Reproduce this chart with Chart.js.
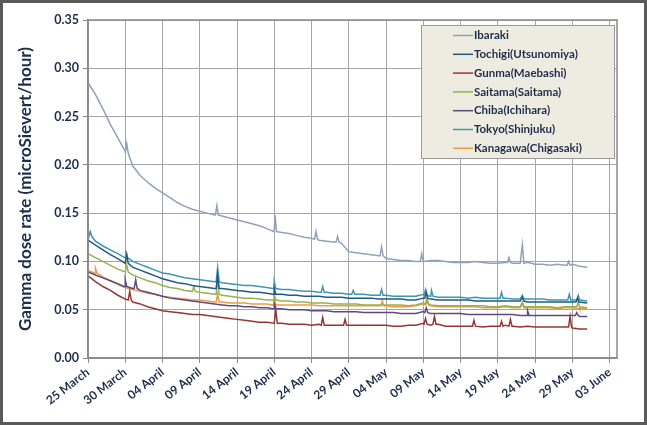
<!DOCTYPE html>
<html>
<head>
<meta charset="utf-8">
<script src="https://cdn.jsdelivr.net/npm/chart.js@4.4.0/dist/chart.umd.min.js"></script>
<style>
  html, body { margin: 0; padding: 0; background: #fff; }
  #wrap { position: relative; width: 647px; height: 425px; }
</style>
</head>
<body>
<div id="wrap"><canvas id="chart" width="647" height="425"></canvas></div>
<script>
// Tick labels, one every 5 days starting 25 March (day 0)
const dateLabels = ['25 March','30 March','04 April','09 April','14 April','19 April','24 April',
  '29 April','04 May','09 May','14 May','19 May','24 May','29 May','03 June'];
const yTicks = [0, 0.05, 0.10, 0.15, 0.20, 0.25, 0.30, 0.35];

const seriesNames = ['Ibaraki','Tochigi(Utsunomiya)','Gunma(Maebashi)','Saitama(Saitama)',
  'Chiba(Ichihara)','Tokyo(Shinjuku)','Kanagawa(Chigasaki)'];
const seriesColors = ['#90a2ba','#235a80','#963634','#98b04e','#5e4a80','#3d97b4','#f0994a'];

// daily readings, day 0 = 25 March
const ibaraki = [0.285,0.273,0.258,0.242,0.228,0.214,0.199,0.189,0.182,0.176,0.171,0.166,0.161,0.157,0.154,0.152,0.150,0.148,0.147,0.145,
  0.143,0.141,0.139,0.137,0.134,0.131,0.130,0.129,0.127,0.125,0.124,0.122,0.121,0.120,0.119,0.110,0.109,0.108,0.107,0.106,
  0.103,0.102,0.101,0.101,0.100,0.100,0.101,0.101,0.100,0.099,0.099,0.099,0.100,0.099,0.098,0.098,0.099,0.098,0.098,0.099,
  0.097,0.097,0.096,0.097,0.096,0.097,0.095,0.094];
const tochigi = [0.122,0.117,0.112,0.107,0.103,0.098,0.094,0.091,0.088,0.085,0.082,0.080,0.078,0.077,0.075,0.074,0.073,0.072,0.072,0.071,
  0.070,0.069,0.068,0.068,0.067,0.066,0.066,0.065,0.065,0.064,0.064,0.064,0.063,0.063,0.063,0.062,0.062,0.062,0.062,0.061,
  0.061,0.061,0.061,0.060,0.060,0.062,0.061,0.060,0.060,0.060,0.060,0.060,0.059,0.059,0.059,0.059,0.059,0.059,0.059,0.058,
  0.058,0.058,0.058,0.058,0.058,0.058,0.058,0.057];
const gunma = [0.085,0.079,0.074,0.070,0.065,0.061,0.058,0.056,0.053,0.051,0.049,0.048,0.047,0.046,0.045,0.045,0.044,0.043,0.042,0.041,
  0.040,0.039,0.038,0.037,0.037,0.036,0.036,0.035,0.035,0.035,0.034,0.035,0.034,0.034,0.034,0.034,0.034,0.034,0.034,0.034,
  0.034,0.033,0.033,0.034,0.034,0.036,0.034,0.035,0.033,0.033,0.033,0.033,0.033,0.032,0.033,0.033,0.034,0.033,0.032,0.033,
  0.032,0.032,0.032,0.032,0.032,0.031,0.030,0.030];
const saitama = [0.108,0.104,0.100,0.096,0.092,0.089,0.086,0.083,0.080,0.078,0.075,0.073,0.072,0.070,0.069,0.068,0.067,0.066,0.065,0.064,
  0.063,0.062,0.062,0.061,0.060,0.060,0.059,0.059,0.058,0.058,0.057,0.057,0.057,0.056,0.056,0.056,0.056,0.055,0.055,0.055,
  0.055,0.055,0.055,0.054,0.055,0.057,0.055,0.054,0.054,0.054,0.054,0.054,0.054,0.054,0.053,0.053,0.054,0.053,0.053,0.053,
  0.053,0.053,0.053,0.052,0.053,0.053,0.052,0.052];
const chiba = [0.089,0.086,0.083,0.080,0.077,0.074,0.072,0.070,0.068,0.066,0.064,0.062,0.061,0.060,0.059,0.058,0.057,0.056,0.055,0.054,
  0.054,0.053,0.053,0.052,0.052,0.051,0.051,0.050,0.050,0.050,0.049,0.049,0.049,0.048,0.048,0.048,0.048,0.047,0.047,0.047,
  0.047,0.047,0.046,0.046,0.046,0.048,0.046,0.046,0.046,0.046,0.046,0.045,0.045,0.045,0.045,0.045,0.045,0.045,0.044,0.044,
  0.044,0.044,0.044,0.044,0.044,0.044,0.043,0.043];
const tokyo = [0.127,0.121,0.116,0.112,0.108,0.104,0.100,0.097,0.094,0.091,0.088,0.087,0.085,0.083,0.082,0.081,0.080,0.079,0.078,0.077,
  0.076,0.075,0.075,0.074,0.073,0.072,0.071,0.071,0.070,0.069,0.069,0.068,0.068,0.067,0.067,0.066,0.066,0.066,0.065,0.065,
  0.065,0.064,0.064,0.064,0.064,0.066,0.064,0.063,0.063,0.063,0.063,0.062,0.063,0.062,0.062,0.062,0.062,0.061,0.061,0.061,
  0.061,0.061,0.060,0.060,0.060,0.060,0.060,0.059];
const kanagawa = [0.091,0.088,0.084,0.080,0.076,0.073,0.071,0.069,0.067,0.066,0.064,0.063,0.062,0.061,0.060,0.060,0.059,0.058,0.058,0.057,
  0.057,0.057,0.056,0.056,0.056,0.055,0.055,0.055,0.055,0.055,0.055,0.054,0.054,0.054,0.054,0.054,0.054,0.054,0.054,0.054,
  0.054,0.053,0.053,0.053,0.054,0.056,0.054,0.053,0.053,0.053,0.053,0.053,0.053,0.052,0.052,0.052,0.053,0.052,0.052,0.052,
  0.052,0.052,0.052,0.051,0.052,0.052,0.051,0.051];

// short spikes: [day, base, peak]
const ibarakiSpikes = [[5.2,0.212,0.222],[17.3,0.148,0.158],[25.1,0.131,0.148],[30.6,0.123,0.131],[33.5,0.120,0.126],
  [39.4,0.106,0.115],[44.8,0.100,0.108],[56.5,0.099,0.104],[58.3,0.098,0.117],[64.5,0.096,0.100]];
const tochigiSpikes = [[5.2,0.098,0.107],[17.4,0.072,0.086],[25.0,0.066,0.072],[45.4,0.062,0.068],[58.3,0.059,0.063],[65.7,0.058,0.062]];
const gunmaSpikes = [[5.6,0.060,0.069],[25.2,0.036,0.050],[31.5,0.034,0.042],[34.5,0.034,0.040],[45.3,0.035,0.041],
  [46.5,0.035,0.043],[51.8,0.033,0.039],[55.5,0.033,0.038],[56.7,0.033,0.040],[64.7,0.032,0.043]];
const saitamaSpikes = [[5.2,0.089,0.096],[14.2,0.069,0.074],[17.4,0.066,0.083],[25.0,0.060,0.066],[45.5,0.056,0.063],
  [58.3,0.053,0.058],[65.8,0.053,0.058]];
const chibaSpikes = [[5.0,0.074,0.081],[6.4,0.072,0.081],[25.0,0.051,0.056],[45.4,0.047,0.052],[59.0,0.044,0.049],[65.6,0.044,0.047]];
const tokyoSpikes = [[0.3,0.126,0.131],[5.1,0.104,0.109],[17.4,0.079,0.094],[25.0,0.072,0.079],[31.5,0.068,0.074],
  [35.6,0.066,0.070],[39.4,0.065,0.071],[45.3,0.065,0.071],[46.1,0.064,0.070],[55.5,0.062,0.068],[58.3,0.061,0.065],
  [64.6,0.060,0.066],[65.8,0.060,0.065]];
const kanagawaSpikes = [[1.0,0.088,0.093],[17.4,0.058,0.066],[25.0,0.055,0.062],[39.5,0.054,0.059],[45.5,0.055,0.060],[58.3,0.052,0.056]];

const allValues = [ibaraki, tochigi, gunma, saitama, chiba, tokyo, kanagawa];
const allSpikes = [ibarakiSpikes, tochigiSpikes, gunmaSpikes, saitamaSpikes, chibaSpikes, tokyoSpikes, kanagawaSpikes];

function buildPoints(vals, spikes) {
  const pts = vals.map((v, i) => ({x: i, y: v}));
  spikes.forEach(([d, base, peak]) => {
    pts.push({x: d - 0.2, y: base}, {x: d, y: peak}, {x: d + 0.2, y: base});
  });
  return pts.sort((a, b) => a.x - b.x);
}

const textColor = '#1f2d4d';
const fontFam = "Lato, 'Open Sans', sans-serif";

// plot frame + page frame
const framePlugin = {
  id: 'frame',
  beforeDraw(chart) {
    const ctx = chart.ctx;
    ctx.save();
    ctx.fillStyle = '#fff';
    ctx.fillRect(0, 0, chart.width, chart.height);
    ctx.restore();
  },
  afterDatasetsDraw(chart) {
    const {ctx, chartArea: a} = chart;
    ctx.save();
    ctx.strokeStyle = '#8a8a8a';
    ctx.lineWidth = 1.5;
    ctx.strokeRect(a.left, a.top, a.right - a.left, a.bottom - a.top);
    ctx.restore();
  },
  afterDraw(chart) {
    const ctx = chart.ctx;
    ctx.save();
    ctx.strokeStyle = '#5a5a5a';
    ctx.lineWidth = 3;
    ctx.strokeRect(1.5, 1.5, chart.width - 3, chart.height - 3);
    ctx.restore();
  }
};

// legend box inside the plot, top right
const boxLegend = {
  id: 'boxLegend',
  afterDraw(chart) {
    const ctx = chart.ctx;
    const bx = 421, by = 25, bw = 193, bh = 133;
    ctx.save();
    ctx.fillStyle = '#eeece1';
    ctx.fillRect(bx, by, bw, bh);
    ctx.strokeStyle = '#9a9a9a';
    ctx.lineWidth = 1;
    ctx.strokeRect(bx + 0.5, by + 0.5, bw, bh);
    ctx.font = "bold 11.5px " + fontFam;
    ctx.textBaseline = 'middle';
    chart.data.datasets.forEach((ds, i) => {
      const y = by + 10.5 + i * 18.8;
      ctx.strokeStyle = ds.borderColor;
      ctx.lineWidth = 1.5;
      ctx.beginPath();
      ctx.moveTo(453, y);
      ctx.lineTo(473, y);
      ctx.stroke();
      ctx.fillStyle = textColor;
      ctx.fillText(ds.label, 474, y);
    });
    ctx.restore();
  }
};

new Chart(document.getElementById('chart'), {
  type: 'line',
  data: {
    datasets: seriesNames.map((name, i) => ({
      label: name,
      data: buildPoints(allValues[i], allSpikes[i]),
      borderColor: seriesColors[i],
      backgroundColor: seriesColors[i],
      borderWidth: 1.5,
      pointRadius: 0,
      tension: 0
    }))
  },
  options: {
    responsive: false,
    animation: false,
    layout: { padding: { top: 20, right: 30, left: 0, bottom: 0 } },
    plugins: { legend: { display: false }, tooltip: { enabled: false } },
    scales: {
      x: {
        type: 'linear',
        min: 0,
        max: 71,
        afterBuildTicks: s => { s.ticks = dateLabels.map((_, i) => ({value: i * 5})); },
        afterFit: s => { s.height = 67; },
        ticks: {
          callback: v => dateLabels[Math.round(v / 5)],
          color: textColor,
          font: { family: fontFam, size: 12, weight: 'bold' },
          minRotation: 38,
          maxRotation: 38,
          autoSkip: false,
          padding: 2
        },
        grid: { color: '#a6a6a6', lineWidth: 1, tickLength: 5, tickColor: '#8a8a8a' },
        border: { color: '#8a8a8a', width: 1.5 }
      },
      y: {
        min: 0,
        max: 0.35,
        afterBuildTicks: s => { s.ticks = yTicks.map(v => ({value: v})); },
        afterFit: s => { s.width = 88; },
        ticks: {
          callback: v => v.toFixed(2),
          color: textColor,
          font: { family: fontFam, size: 12.5, weight: 'bold' },
          padding: 4
        },
        grid: { color: '#a6a6a6', lineWidth: 1, tickLength: 5, tickColor: '#8a8a8a' },
        border: { color: '#8a8a8a', width: 1.5 },
        title: {
          display: true,
          text: 'Gamma dose rate (microSievert/hour)',
          color: textColor,
          font: { family: fontFam, size: 17, weight: 'bold' },
          padding: { top: 15, bottom: 2 }
        }
      }
    }
  },
  plugins: [framePlugin, boxLegend]
});
</script>
</body>
</html>
